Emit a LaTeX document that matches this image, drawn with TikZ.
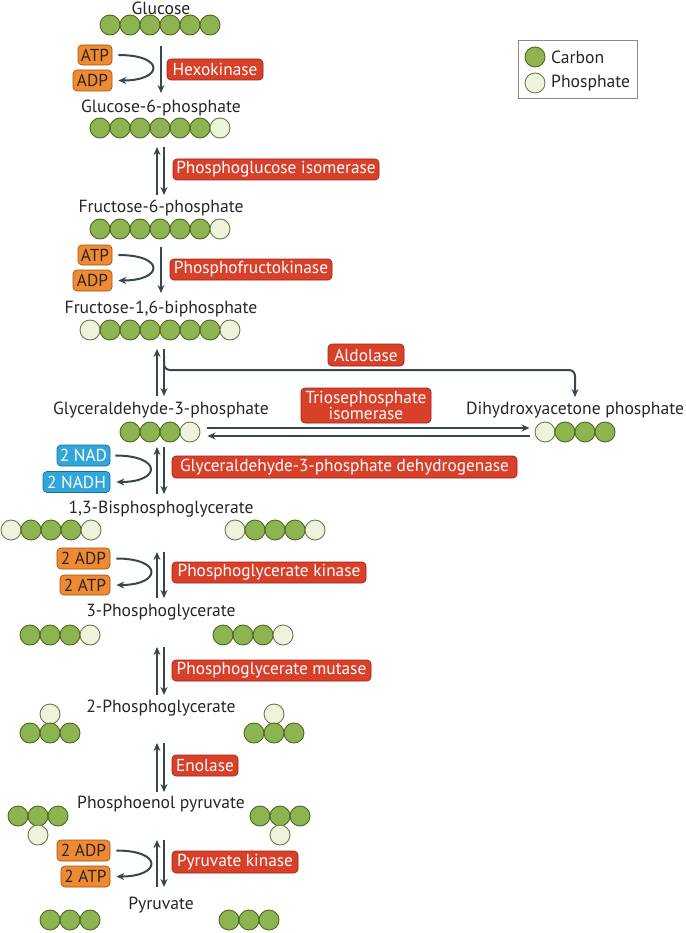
\documentclass[tikz,border=0pt]{standalone}
\usepackage{fontspec}
\setmainfont{PT Sans}
\usetikzlibrary{arrows.meta}
\definecolor{carb}{HTML}{8DB450}
\definecolor{carbedge}{HTML}{4C6A22}
\definecolor{phosf}{HTML}{EEF3DC}
\definecolor{phosedge}{HTML}{6B7A4E}
\definecolor{enzred}{HTML}{D9402A}
\definecolor{enzedge}{HTML}{9A2518}
\definecolor{orf}{HTML}{F08A32}
\definecolor{oredge}{HTML}{9A5214}
\definecolor{blf}{HTML}{30A6DA}
\definecolor{bledge}{HTML}{1D6E94}
\definecolor{arrcol}{HTML}{37474F}
\begin{document}
\begin{tikzpicture}[x=1pt,y=-1pt,
  carbon/.style={circle,draw=carbedge,fill=carb,minimum size=20pt,inner sep=0pt,line width=0.9pt},
  phos/.style={circle,draw=phosedge,fill=phosf,minimum size=20pt,inner sep=0pt,line width=0.9pt},
  enz/.style={rounded corners=4pt,fill=enzred,draw=enzedge,line width=0.7pt,text=white,font=\fontsize{17.3}{15.5}\selectfont,minimum height=21pt,inner sep=0pt,align=center},
  cofo/.style={rounded corners=4pt,fill=orf,draw=oredge,line width=0.7pt,text=black!85,font=\fontsize{17.3}{17}\selectfont,minimum height=21pt,inner sep=0pt},
  cofb/.style={rounded corners=4pt,fill=blf,draw=bledge,line width=0.7pt,text=white,font=\fontsize{17.3}{17}\selectfont,minimum height=21pt,inner sep=0pt},
  met/.style={font=\fontsize{17.6}{18}\selectfont,text=black!85,inner sep=0pt},
  arr/.style={draw=arrcol,line width=2pt,-{Stealth[length=8pt,width=7pt]}},
  leg/.style={font=\fontsize{17.6}{18}\selectfont,text=black!85,inner sep=0pt,anchor=west}
]
\useasboundingbox (0,0) rectangle (685,933);

\newcommand\rxarrow[3]{%
  \coordinate (#1lt) at (157,#2); \coordinate (#1lb) at (157,#3);
  \coordinate (#1rt) at (164,#2); \coordinate (#1rb) at (164,#3);
  \draw[arr] (#1lb) -- (#1lt);
  \draw[arr] (#1rt) -- (#1rb);}

% Legend
\node[draw=black!45,line width=0.7pt,minimum width=119pt,minimum height=58pt,inner sep=0pt] (legend) at (577.5,69) {};
\node[carbon] (legC) at (535,57) {};
\node[phos] (legP) at (535,83) {};
\node[leg] (legCt) at (551,57) {Carbon};
\node[leg] (legPt) at (551,83) {Phosphate};

% Glucose
\node[met] (glc) at (161,8) {Glucose};
\foreach \x/\s [count=\n] in {110/carbon,130/carbon,150/carbon,170/carbon,190/carbon,210/carbon}
  \node[\s] (glc\n) at (\x,25) {};
\coordinate (hka) at (161,46); \coordinate (hkb) at (161,93);
\draw[arr] (hka) -- (hkb);
\node[enz,minimum width=96pt] (hk) at (215,69.5) {Hexokinase};
\node[cofo,minimum width=34pt,minimum height=20pt] (atp1) at (95,55) {ATP};
\node[cofo,minimum width=39pt] (adp1) at (92.5,80.5) {ADP};
\draw[arr] ([xshift=6pt]atp1.east) .. controls +(47,0) and +(45,0) .. ([xshift=6pt]adp1.east);

% G6P
\node[met] (g6p) at (161,108) {Glucose-6-phosphate};
\foreach \x/\s [count=\n] in {100/carbon,120/carbon,140/carbon,160/carbon,180/carbon,200/carbon,220/phos}
  \node[\s] (g6p\n) at (\x,128) {};
\rxarrow{pgi}{147}{195}
\node[enz,minimum width=206pt] (pgi) at (276,169.5) {Phosphoglucose isomerase};

% F6P
\node[met] (f6p) at (161,208) {Fructose-6-phosphate};
\foreach \x/\s [count=\n] in {100/carbon,120/carbon,140/carbon,160/carbon,180/carbon,200/carbon,220/phos}
  \node[\s] (f6p\n) at (\x,229) {};
\coordinate (pfka) at (161,247); \coordinate (pfkb) at (161,293);
\draw[arr] (pfka) -- (pfkb);
\node[enz,minimum width=162pt] (pfk) at (251,269.5) {Phosphofructokinase};
\node[cofo,minimum width=34pt,minimum height=20pt] (atp2) at (95,255) {ATP};
\node[cofo,minimum width=39pt] (adp2) at (92.5,280.5) {ADP};
\draw[arr] ([xshift=6pt]atp2.east) .. controls +(47,0) and +(45,0) .. ([xshift=6pt]adp2.east);

% F16BP
\node[met] (fbp) at (161,309) {Fructose-1,6-biphosphate};
\foreach \x/\s [count=\n] in {90/phos,110/carbon,130/carbon,150/carbon,170/carbon,190/carbon,210/carbon,230/phos}
  \node[\s] (fbp\n) at (\x,330) {};
\rxarrow{ald}{349}{396}
\coordinate (aldend) at (575,397);
\draw[arr,rounded corners=6pt] (aldrt) ++(0,6) |- (575,370) -- (aldend);
\node[enz,minimum width=76pt,minimum height=22pt] (ald) at (366,355) {Aldolase};

% GAP and DHAP
\node[met] (gap) at (161,410) {Glyceraldehyde-3-phosphate};
\foreach \x/\s [count=\n] in {130/carbon,150/carbon,170/carbon,190/phos}
  \node[\s] (gap\n) at (\x,432) {};
\node[met] (dhap) at (575,410) {Dihydroxyacetone phosphate};
\foreach \x/\s [count=\n] in {545/phos,565/carbon,585/carbon,605/carbon}
  \node[\s] (dhap\n) at (\x,432) {};
\node[enz,minimum width=130pt,minimum height=35pt] (tpi) at (366,405.5) {Triosephosphate\\isomerase};
\draw[arr] ([xshift=7pt]gap4.east |- 0,428) -- ([xshift=-5pt]dhap1.west |- 0,428);
\draw[arr] ([xshift=-5pt]dhap1.west |- 0,436) -- ([xshift=7pt]gap4.east |- 0,436);

% GAPDH
\rxarrow{gapdh}{447}{494}
\node[enz,minimum width=345pt,minimum height=22pt] (gapdh) at (344.5,467) {Glyceraldehyde-3-phosphate dehydrogenase};
\node[cofb,minimum width=53pt] (nad) at (83.5,455.5) {2 NAD};
\node[cofb,minimum width=67pt] (nadh) at (76.5,482) {2 NADH};
\draw[arr] ([xshift=5pt]nad.east) .. controls +(47,0) and +(45,0) .. ([xshift=6pt]nadh.east);

% 1,3-BPG
\node[met] (bpg) at (161,509) {1,3-Bisphosphoglycerate};
\foreach \x/\s [count=\n] in {11/phos,31/carbon,51/carbon,71/carbon,91/phos}
  \node[\s] (bpgL\n) at (\x,530) {};
\foreach \x/\s [count=\n] in {235/phos,255/carbon,275/carbon,295/carbon,315/phos}
  \node[\s] (bpgR\n) at (\x,530) {};
\rxarrow{pgk}{552}{598}
\node[enz,minimum width=194pt] (pgk) at (269,572.5) {Phosphoglycerate kinase};
\node[cofo,minimum width=53pt] (adp3) at (83.5,558.5) {2 ADP};
\node[cofo,minimum width=50pt,minimum height=20pt] (atp3) at (85,585) {2 ATP};
\draw[arr] ([xshift=6pt]adp3.east) .. controls +(47,0) and +(45,0) .. ([xshift=6pt]atp3.east);

% 3PG
\node[met] (pg3) at (161,612) {3-Phosphoglycerate};
\foreach \x/\s [count=\n] in {30/carbon,50/carbon,70/carbon,90/phos}
  \node[\s] (pg3L\n) at (\x,635) {};
\foreach \x/\s [count=\n] in {223/carbon,243/carbon,263/carbon,283/phos}
  \node[\s] (pg3R\n) at (\x,635) {};
\rxarrow{pgm}{647}{695}
\node[enz,minimum width=199pt] (pgm) at (271.5,670.5) {Phosphoglycerate mutase};

% 2PG
\node[met] (pg2) at (161,708) {2-Phosphoglycerate};
\node[phos] (pg2LP) at (50,714) {};
\foreach \x [count=\n] in {30,50,70}
  \node[carbon] (pg2L\n) at (\x,733) {};
\node[phos] (pg2RP) at (274,714) {};
\foreach \x [count=\n] in {254,274,294}
  \node[carbon] (pg2R\n) at (\x,733) {};
\rxarrow{eno}{743}{792}
\node[enz,minimum width=66pt] (eno) at (205,765.5) {Enolase};

% PEP
\node[met] (pep) at (161,804) {Phosphoenol pyruvate};
\foreach \x [count=\n] in {18,38,58}
  \node[carbon] (pepL\n) at (\x,816) {};
\node[phos] (pepLP) at (38,835) {};
\foreach \x [count=\n] in {260,280,300}
  \node[carbon] (pepR\n) at (\x,816) {};
\node[phos] (pepRP) at (280,835) {};
\rxarrow{pk}{840}{887}
\node[enz,minimum width=126pt,minimum height=22pt] (pk) at (235,862) {Pyruvate kinase};
\node[cofo,minimum width=53pt] (adp4) at (83.5,850.5) {2 ADP};
\node[cofo,minimum width=49pt] (atp4) at (85.5,876.5) {2 ATP};
\draw[arr] ([xshift=6pt]adp4.east) .. controls +(47,0) and +(45,0) .. ([xshift=6pt]atp4.east);

% Pyruvate
\node[met] (pyr) at (161,905) {Pyruvate};
\foreach \x [count=\n] in {50,70,90}
  \node[carbon] (pyrL\n) at (\x,920) {};
\foreach \x [count=\n] in {229,249,269}
  \node[carbon] (pyrR\n) at (\x,920) {};
\end{tikzpicture}
\end{document}
